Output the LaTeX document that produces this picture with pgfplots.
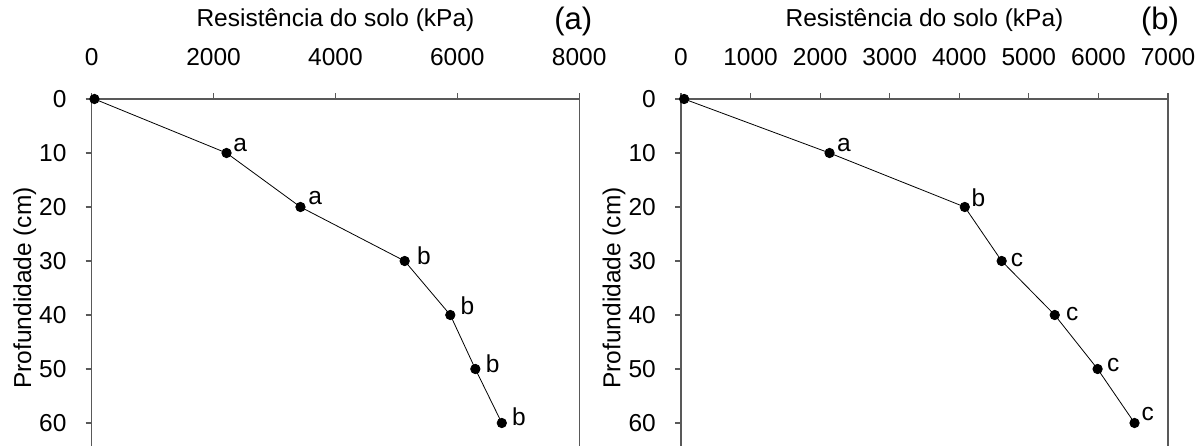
\documentclass[border=0pt]{standalone}
\usepackage{pgfplots}
\pgfplotsset{compat=1.18}
\usepackage{pgfplotstable}
\usepackage{fontspec}
\setmainfont{Liberation Sans}
\newcommand\ff{\fontsize{24.5bp}{28bp}\selectfont}

\pgfplotstableread{
x y lab dx dy
45 0 {} 0 0
2213 10 a 6.7 1.7
3426 20 a 7.7 2.7
5136 30 b 12.3 -3.3
5885 40 b 10 1
6296 50 b 10.3 -3.3
6730 60 b 10 -2.7
}\dataA

\pgfplotstableread{
x y lab dx dy
45 0 {} 0 0
2135 10 a 7.3 1.7
4079 20 b 6.7 0.7
4609 30 c 9 -5.7
5372 40 c 11.3 -5
5988 50 c 9.3 -2.7
6519 60 c 7 2.3
}\dataB

\pgfplotsset{
  panel/.style={
    scale only axis,
    width=487.5bp, height=378bp,
    anchor=north west,
    y dir=reverse,
    ymin=0, ymax=70,
    ytick={0,10,...,60},
    axis x line*=top,
    axis y line*=box,
    ytick pos=left,
    tick align=outside,
    axis line style={-, black!65, line width=1.3bp},
    every tick/.style={black!65, line width=1.1bp},
    major tick length=6bp,
    scaled x ticks=false,
    /pgf/number format/1000 sep={},
    /pgf/number format/assume math mode=true,
    tick label style={font=\ff, inner sep=0pt},
    xticklabel style={anchor=south},
    yticklabel style={anchor=east},
    xticklabel shift=27bp,
    yticklabel shift=19bp,
    every axis x label/.style={at={(rel axis cs:0.5,1)}, anchor=center, yshift=79bp, font=\ff},
    every axis y label/.style={at={(rel axis cs:0,0.5)}, anchor=center, rotate=90, yshift=67bp, font=\ff},
    every axis title/.style={at={(rel axis cs:1,1)}, anchor=center, yshift=78bp, font=\fontsize{31bp}{35bp}\selectfont},
    xlabel={Resistência do solo (kPa)},
    ylabel={Profundidade (cm)},
    clip=false,
  },
  dataline/.style={black, line width=0.8bp, mark=*, mark size=4.7bp, mark options={fill=black, draw=black}},
  labs/.style={draw=none, mark=none, nodes near coords, point meta=explicit symbolic,
    visualization depends on={\thisrow{dx}\as\labdx},
    visualization depends on={\thisrow{dy}\as\labdy},
    nodes near coords style={anchor=base west, inner sep=0pt, font=\ff, text=black,
      xshift=\labdx bp, yshift=\labdy bp}},
}

\begin{document}
\begin{tikzpicture}
\useasboundingbox (0,0) rectangle (1197bp,446bp);
\clip (0,0) rectangle (1197bp,446bp);

\begin{axis}[panel, at={(91.7bp,347bp)},
  xmin=0, xmax=8000, xtick={0,2000,...,8000},
  title={(a)}, title style={xshift=-6bp}]
\addplot[dataline] table[x=x, y=y] {\dataA};
\addplot[labs] table[x=x, y=y, meta=lab, skip first n=1] {\dataA};
\end{axis}

\begin{axis}[panel, at={(681bp,347bp)},
  width=487bp,
  xmin=0, xmax=7000, xtick={0,1000,...,7000},
  title={(b)}, title style={xshift=-8bp}]
\addplot[dataline] table[x=x, y=y] {\dataB};
\addplot[labs] table[x=x, y=y, meta=lab, skip first n=1] {\dataB};
\end{axis}
\end{tikzpicture}
\end{document}
